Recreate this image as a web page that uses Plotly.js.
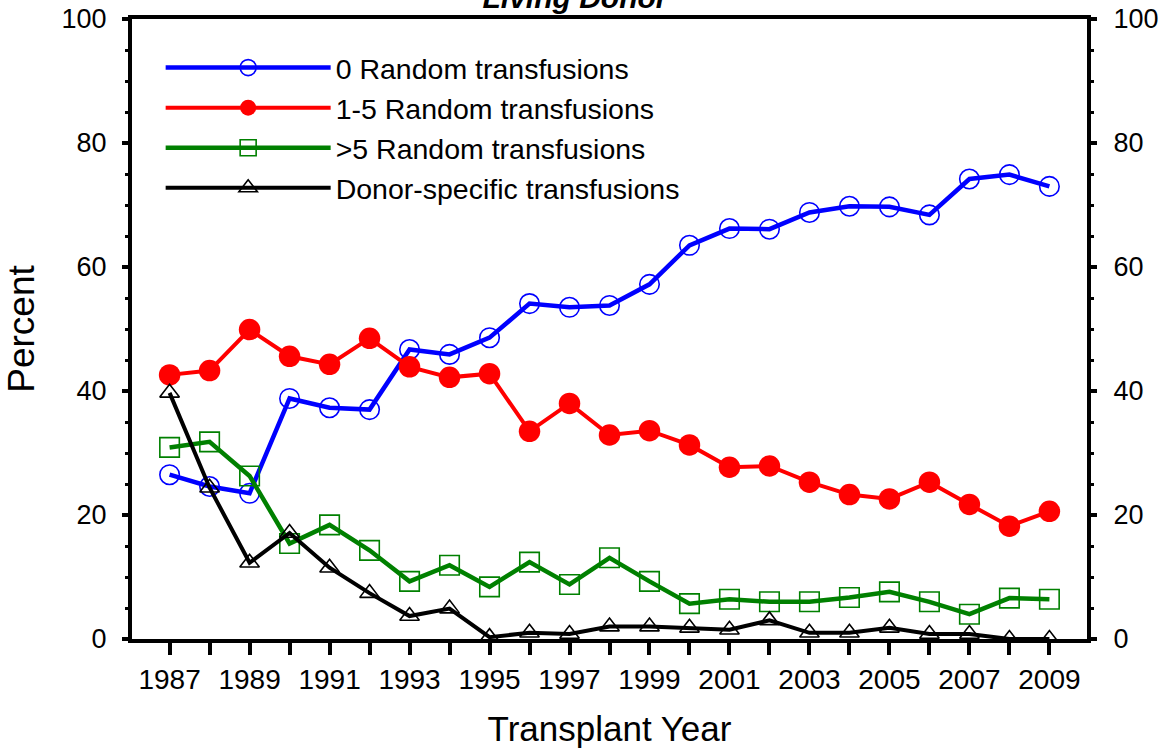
<!DOCTYPE html>
<html>
<head>
<meta charset="utf-8">
<script src="https://cdn.plot.ly/plotly-3.0.1.min.js"></script>
<style>
html,body{margin:0;padding:0;background:#ffffff;}
#chart{width:1159px;height:755px;}
</style>
</head>
<body>
<div id="chart"></div>
<script>
const years = [1987,1988,1989,1990,1991,1992,1993,1994,1995,1996,1997,1998,1999,2000,2001,2002,2003,2004,2005,2006,2007,2008,2009];
const zeroRandom = [26.5,24.6,23.5,38.8,37.3,37.0,46.7,45.9,48.6,54.1,53.5,53.8,57.2,63.5,66.2,66.1,68.8,69.8,69.7,68.4,74.2,74.9,73.0];
const oneToFiveRandom = [42.6,43.3,49.9,45.6,44.3,48.5,43.9,42.2,42.8,33.5,38.0,32.9,33.6,31.3,27.7,27.9,25.3,23.3,22.6,25.3,21.7,18.2,20.6];
const overFiveRandom = [30.9,31.8,26.3,15.4,18.4,14.3,9.3,11.9,8.4,12.4,8.8,13.1,9.3,5.7,6.4,6.0,6.0,6.7,7.6,6.0,4.0,6.6,6.4];
const donorSpecific = [39.7,24.4,12.3,17.1,11.5,7.4,3.7,4.9,0.3,1.0,0.8,2.0,2.0,1.8,1.5,3.0,1.0,1.0,1.8,0.8,0.8,0.0,0.0];
const seriesNames = ['0 Random transfusions','1-5 Random transfusions','>5 Random transfusions','Donor-specific transfusions'];
const yTickVals = [0,20,40,60,80,100];

const FONT = '"Liberation Sans", Arial, Helvetica, sans-serif';

const traces = [
  {x: years, y: zeroRandom, name: seriesNames[0], type: 'scatter', mode: 'lines+markers',
   line: {color: '#0000ff', width: 4.5},
   marker: {symbol: 'circle-open', size: 19.5, color: '#0000ff', line: {width: 1.6}}},
  {x: years, y: oneToFiveRandom, name: seriesNames[1], type: 'scatter', mode: 'lines+markers',
   line: {color: '#ff0000', width: 4},
   marker: {symbol: 'circle', size: 21.5, color: '#ff0000', line: {width: 0}}},
  {x: years, y: overFiveRandom, name: seriesNames[2], type: 'scatter', mode: 'lines+markers',
   line: {color: '#008000', width: 4.5},
   marker: {symbol: 'square-open', size: 19.5, color: '#008000', line: {width: 1.6}}},
  {x: years, y: donorSpecific, name: seriesNames[3], type: 'scatter', mode: 'lines+markers',
   line: {color: '#000000', width: 4},
   marker: {symbol: 'triangle-up-open', size: 17, color: '#000000', line: {width: 1.6}}},
  // invisible helper so the right-hand axis is drawn
  {x: years, y: zeroRandom, yaxis: 'y2', type: 'scatter', mode: 'lines', showlegend: false,
   hoverinfo: 'skip', opacity: 0, line: {width: 0}}
];

const yCommon = {
  range: [0, 100], tickmode: 'array', tickvals: yTickVals,
  ticks: 'outside', ticklen: 6, tickwidth: 4, tickcolor: '#000',
  showline: true, linewidth: 4, linecolor: '#000',
  showgrid: false, zeroline: false, fixedrange: true,
  minor: {dtick: 5, ticks: 'outside', ticklen: 3, tickwidth: 3, tickcolor: '#000', showgrid: false},
  tickfont: {family: FONT, size: 27, color: '#000'}
};

const layout = {
  width: 1159, height: 755,
  margin: {l: 132, r: 72, t: 19, b: 116, pad: 0},
  paper_bgcolor: '#ffffff', plot_bgcolor: '#ffffff',
  font: {family: FONT, color: '#000'},
  showlegend: true,
  title: {text: '<b><i>Living Donor</i></b>', font: {family: FONT, size: 30, color: '#000'},
          xref: 'container', x: 575/1159, xanchor: 'center', yref: 'container', y: 1 - 8/755, yanchor: 'bottom'},
  xaxis: {
    range: [1986.06, 2009.94], tickmode: 'linear', tick0: 1987, dtick: 2,
    ticks: 'outside', ticklen: 12, tickwidth: 4, tickcolor: '#000',
    showline: true, linewidth: 4, linecolor: '#000', mirror: true,
    showgrid: false, zeroline: false, fixedrange: true,
    minor: {tick0: 1987, dtick: 1, ticks: 'outside', ticklen: 12, tickwidth: 4, tickcolor: '#000', showgrid: false},
    tickfont: {family: FONT, size: 28, color: '#000'},
    ticklabelstandoff: 0,
    title: {text: 'Transplant Year', font: {family: FONT, size: 35, color: '#000'}, standoff: 24},
    automargin: false
  },
  yaxis: Object.assign({}, yCommon, {
    side: 'left', ticklabelstandoff: 10,
    title: {text: 'Percent', font: {family: FONT, size: 37, color: '#000'}, standoff: 17},
    automargin: false
  }),
  yaxis2: Object.assign({}, yCommon, {overlaying: 'y', side: 'right', ticklabelstandoff: 11, automargin: false}),
  legend: {
    x: 0.03, y: 0.962, xanchor: 'left', yanchor: 'top',
    bgcolor: 'rgba(0,0,0,0)', borderwidth: 0,
    font: {family: FONT, size: 28.5, color: '#000'},
    itemwidth: 165, tracegroupgap: 0, itemclick: false, itemdoubleclick: false
  }
};

Plotly.newPlot('chart', traces, layout, {staticPlot: true, displayModeBar: false});
</script>
</body>
</html>
